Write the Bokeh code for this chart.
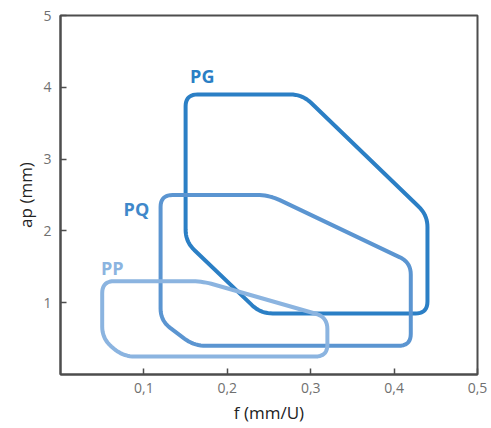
import numpy as np
from bokeh.plotting import figure
from bokeh.models import Range1d, FixedTicker, Label, CustomJSTickFormatter
from bokeh.embed import file_html
from bokeh.resources import INLINE

# ---- data ----
x_ticks = [0.1, 0.2, 0.3, 0.4, 0.5]
y_ticks = [1, 2, 3, 4, 5]

series_names = ["PG", "PQ", "PP"]
PG_f = [0.15, 0.29, 0.44, 0.44, 0.24, 0.15]
PG_ap = [3.9, 3.9, 2.22, 0.85, 0.85, 1.85]
PQ_f = [0.12, 0.25, 0.42, 0.42, 0.16, 0.12]
PQ_ap = [2.5, 2.5, 1.56, 0.4, 0.4, 0.75]
PP_f = [0.05, 0.17, 0.32, 0.32, 0.075, 0.05]
PP_ap = [1.3, 1.3, 0.8, 0.25, 0.25, 0.5]
label_f = [0.170, 0.091, 0.062]
label_ap = [4.16, 2.30, 1.49]

colors = ["#2b7fc5", "#5b95d1", "#8bb4e0"]
label_colors = ["#2b7fc5", "#3f88ca", "#8bb4e0"]

# ---- layout ----
W, H = 491, 428
BL, BR, BT, BB = 60, 14, 15, 54
FW, FH = W - BL - BR, H - BT - BB
XMAX, YMAX = 0.5, 5.0
sx, sy = FW / XMAX, FH / YMAX  # px per data unit


def rounded(xs, ys, d=12.0, n=10):
    P = np.column_stack([np.array(xs) * sx, np.array(ys) * sy])
    m = len(P)
    out = []
    for i in range(m):
        p0, p1, p2 = P[i - 1], P[i], P[(i + 1) % m]
        v1, v2 = p0 - p1, p2 - p1
        l1, l2 = np.linalg.norm(v1), np.linalg.norm(v2)
        dd = min(d, 0.45 * l1, 0.45 * l2)
        a = p1 + v1 / l1 * dd
        b = p1 + v2 / l2 * dd
        t = np.linspace(0, 1, n)[:, None]
        pts = (1 - t) ** 2 * a + 2 * (1 - t) * t * p1 + t ** 2 * b
        out.extend(pts.tolist())
    out.append(out[0])
    out = np.array(out)
    return out[:, 0] / sx, out[:, 1] / sy


p = figure(width=W, height=H, output_backend="svg", toolbar_location=None,
           x_range=Range1d(0, XMAX), y_range=Range1d(0, YMAX),
           min_border_left=BL, min_border_right=BR, min_border_top=BT,
           min_border_bottom=BB)
p.background_fill_color = "white"
p.border_fill_color = "white"
p.grid.visible = False
p.outline_line_color = "#4d4d4d"
p.outline_line_width = 2
p.outline_line_alpha = 1

for ax in (p.xaxis[0], p.yaxis[0]):
    ax.axis_line_color = "#4d4d4d"
    ax.axis_line_width = 2
    ax.major_tick_line_color = "#4d4d4d"
    ax.major_tick_line_width = 1.5
    ax.major_tick_in = 6
    ax.major_tick_out = 0
    ax.minor_tick_line_color = None
    ax.major_label_text_font = "Open Sans"
    ax.major_label_text_font_size = "14px"
    ax.major_label_text_color = "#707070"
    ax.axis_label_text_font = "Open Sans"
    ax.axis_label_text_font_size = "17px"
    ax.axis_label_text_font_style = "normal"
    ax.axis_label_text_color = "#222222"

p.xaxis.ticker = FixedTicker(ticks=x_ticks)
p.yaxis.ticker = FixedTicker(ticks=y_ticks)
p.xaxis.formatter = CustomJSTickFormatter(code="return tick.toFixed(1).replace('.', ',');")
p.xaxis.axis_label = "f (mm/U)"
p.yaxis.axis_label = "ap (mm)"
p.xaxis.major_label_standoff = 8
p.yaxis.major_label_standoff = 9
p.xaxis.axis_label_standoff = 5
p.yaxis.axis_label_standoff = 3

for xs, ys, c in zip([PG_f, PQ_f, PP_f], [PG_ap, PQ_ap, PP_ap], colors):
    rx, ry = rounded(xs, ys)
    p.line(rx, ry, line_color=c, line_width=4, line_join="round", line_cap="round")

for name, lx, ly, c in zip(series_names, label_f, label_ap, label_colors):
    p.add_layout(Label(x=lx, y=ly, text=name, text_align="center", text_baseline="middle",
                       text_font="Open Sans", text_font_size="18px", text_font_style="bold",
                       text_color=c))

p.add_layout(Label(x=0, y=0, x_offset=-10, y_offset=-8, text="0", text_align="center",
                   text_baseline="top", text_font="Open Sans", text_font_size="14px",
                   text_color="#707070"))

open("out.html", "w").write(file_html(p, INLINE))
